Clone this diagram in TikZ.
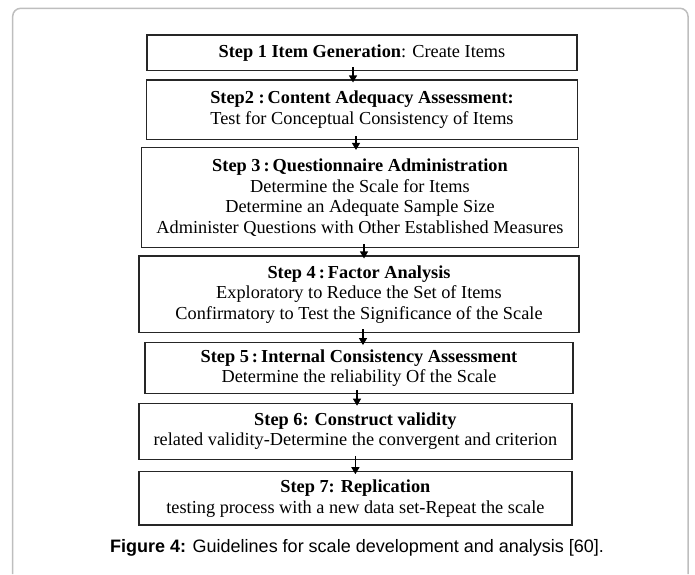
\documentclass[tikz,border=0pt]{standalone}
\usepackage{fontspec}
\setmainfont{Liberation Serif}
\newfontfamily\capfont{Liberation Sans}
\usetikzlibrary{arrows.meta}
\definecolor{framegray}{RGB}{190,190,190}
\tikzset{
  stepbox/.style={draw=black!85, line width=1.2pt, align=center, inner sep=0pt,
    font=\fontsize{18.3}{20.5}\selectfont},
  arr/.style={-{Triangle[length=7pt,width=8pt]}, line width=1.2pt},
}
\begin{document}
\begin{tikzpicture}[x=1pt,y=-1pt]
\useasboundingbox (0,0) rectangle (695,574);
%frame
\draw[framegray, line width=1.5pt, rounded corners=8pt] (12.7,574) -- (12.7,8.3) -- (688,8.3) -- (688,574);
%steps
\node[stepbox, minimum width=430pt, minimum height=35.7pt] (b1) at (362,52.9)
  {\textbf{Step 1 Item Generation}: Create Items};
\node[stepbox, minimum width=431pt, minimum height=59.5pt] (b2) at (362,109.8)
  {\textbf{Step2 :\,Content Adequacy Assessment:}\\ Test for Conceptual Consistency of Items};
\node[stepbox, minimum width=437pt, minimum height=100pt] (b3) at (360,197.5)
  {\textbf{Step 3\,:\,Questionnaire Administration}\\ Determine the Scale for Items\\
   Determine an Adequate Sample Size\\ Administer Questions with Other Established Measures};
\node[stepbox, minimum width=440pt, minimum height=76.7pt] (b4) at (359,294.4)
  {\textbf{Step 4\,:\,Factor Analysis}\\ Exploratory to Reduce the Set of Items\\
   Confirmatory to Test the Significance of the Scale};
\node[stepbox, minimum width=428pt, minimum height=50.6pt] (b5) at (359,368)
  {\textbf{Step 5\,:\,Internal Consistency Assessment}\\ Determine the reliability Of the Scale};
\node[stepbox, minimum width=433pt, minimum height=56pt] (b6) at (355.4,431.3)
  {\textbf{Step 6: Construct validity}\\ related validity-Determine the convergent and criterion};
\node[stepbox, minimum width=433pt, minimum height=53.3pt] (b7) at (355.4,498.4)
  {\textbf{Step 7: Replication}\\ testing process with a new data set-Repeat the scale};
\foreach \a/\b/\dx in {b1/b2/-9, b2/b3/-6, b3/b4/4, b4/b5/4, b5/b6/-2, b6/b7/0}
  \draw[arr] ([xshift=\dx pt, yshift=4pt]\a.south) -- ([xshift=\dx pt, yshift=-3pt]\a.south |- \b.north);
%caption
\node[font=\capfont\fontsize{18}{20}\selectfont, inner sep=0pt] (cap) at (357,548)
  {\textbf{Figure 4:} Guidelines for scale development and analysis [60].};
\end{tikzpicture}
\end{document}
